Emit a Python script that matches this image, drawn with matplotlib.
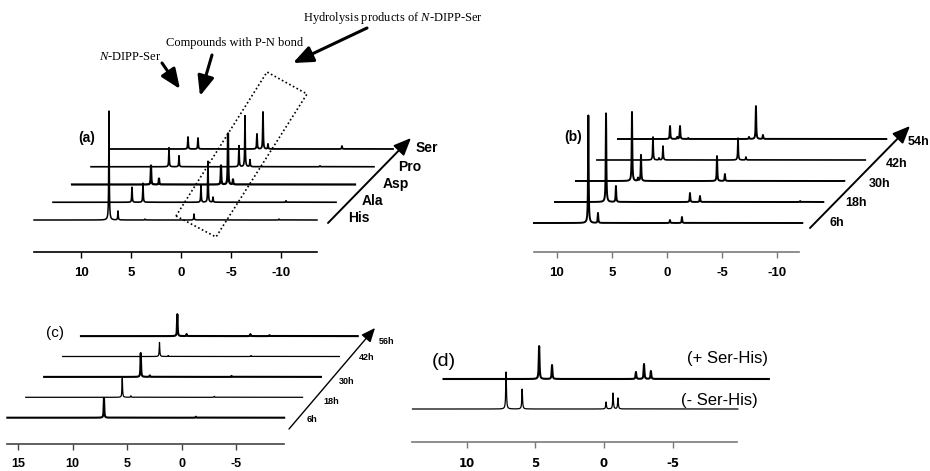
import numpy as np
import matplotlib
matplotlib.use("Agg")
import matplotlib.pyplot as plt

plt.rcParams['font.family'] = ['Liberation Sans', 'DejaVu Sans']
plt.rcParams['mathtext.fontset'] = 'custom'
plt.rcParams['mathtext.rm'] = 'Liberation Serif'
plt.rcParams['mathtext.it'] = 'Liberation Serif:italic'

# ---- data (chemical shifts in ppm, peak heights in arbitrary units) ----
a_labels = ['His', 'Ala', 'Asp', 'Pro', 'Ser']
a_shifts = [[7.2, 6.3, 3.6, -1.3, -9.8],
            [6.8, 5.7, -0.1, -0.8, -1.3, -8.6],
            [6.8, 6.0, -0.2, -0.9, -1.4],
            [6.9, 5.9, -0.1, -0.7, -1.2, -8.2],
            [6.9, 5.9, 0.0, -0.6, -1.1, -8.5]]
a_heights = [[109, 9, 1, 6, 1],
             [15, 19, 17, 41, 5, 1.5],
             [19, 6, 19, 51, 5],
             [19, 11, 21, 51, 7, 1],
             [12, 11, 15, 37, 5, 3]]

b_labels = ['6h', '18h', '30h', '42h', '54h']
b_shifts = [[7.15, 6.27, -0.27, -1.36],
            [7.45, 6.55, -0.18, -1.09, -10.2],
            [7.0, 6.45, 6.18, -0.73, -1.45, -12.4],
            [7.0, 6.45, 6.09, -0.73, -1.45],
            [7.36, 6.7, 6.45, 5.7, 0.18, -0.45, -1.09]]
b_heights = [[108, 10, 3, 6],
             [89, 16, 9, 6, 1],
             [69, 3, 26, 25, 7, 1],
             [23, 2, 14, 22, 3],
             [13, 2, 13, 1, 2, 33, 4]]

c_labels = ['6h', '18h', '30h', '42h', '56h']
c_shifts = [[7.13, -1.3],
            [7.14, 6.35, -1.3],
            [7.13, 6.3, -1.2],
            [7.1, 6.3, -1.3],
            [7.15, 6.3, 0.45, -1.3]]
c_heights = [[20, 1],
             [19, 1.5, 1],
             [24, 1.5, 1],
             [14, 1, 1],
             [22, 2, 2, 1]]

d_labels = ['(- Ser-His)', '(+ Ser-His)']
d_shifts = [[7.13, 5.96, -0.15, -0.66, -1.02],
            [6.98, 6.04, -0.07, -0.66, -1.16]]
d_heights = [[37, 20, 7, 16, 11],
             [33, 14, 7, 15, 8]]

W, H = 930, 471
fig = plt.figure(figsize=(9.3, 4.71), dpi=100)


def spectrum(x, shifts, heights, w=0.03):
    y = np.zeros_like(x)
    for s, h in zip(shifts, heights):
        y += h / (1 + ((x - s) / w) ** 2)
    return y


def panel(zero_px, px_ppm, base_py, axis_py, lim, ticks, color='k', font=None, fs=9.5, weight='bold'):
    # whole-figure axes, scaled so that 1 unit in y is one pixel
    ax = fig.add_axes([0, 0, 1, 1])
    ax.patch.set_alpha(0)
    ax.set_xlim(zero_px / px_ppm, (zero_px - W) / px_ppm)
    ax.set_ylim(base_py - H, base_py)
    for s in ['top', 'left', 'right']:
        ax.spines[s].set_visible(False)
    ax.spines['bottom'].set_position(('data', base_py - axis_py))
    ax.spines['bottom'].set_bounds(lim[0], lim[1])
    ax.spines['bottom'].set_color(color)
    ax.spines['bottom'].set_linewidth(1.2)
    ax.set_yticks([])
    ax.set_xticks(ticks)
    ax.set_xticklabels([str(t) for t in ticks], fontsize=fs, fontweight=weight,
                       family=font if font else plt.rcParams['font.family'])
    ax.tick_params(axis='x', direction='out', length=4.5, width=1, color=color, pad=6)
    return ax


def stack(ax, shifts, heights, lim, dx, dy, widths):
    x = np.arange(lim[1], lim[0], 0.004)
    for i in range(len(shifts)):
        y = spectrum(x, shifts[i], heights[i])
        ax.plot(x + i * dx, y + i * dy, color='k', lw=widths[i], clip_on=False)


# (a)
ax_a = panel(181, 10, 220, 252, (14.7, -13.6), [10, 5, 0, -5, -10])
stack(ax_a, a_shifts, a_heights, (14.7, -13.6), -1.9, 17.75, [1.1, 1.2, 1.6, 1.2, 1.3])

# (b)
ax_b = panel(667, 11, 223, 252, (12.1, -12.0), [10, 5, 0, -5, -10], color='#7a7a7a')
stack(ax_b, b_shifts, b_heights, (12.1, -12.3), -21 / 11, 21, [1.4, 1.4, 1.4, 1.2, 1.4])

# (c)
ax_c = panel(181.7, 10.9, 417.7, 443.5, (16.0, -9.4), [15, 10, 5, 0, -5], color='#444444', fs=9)
stack(ax_c, c_shifts, c_heights, (16.0, -9.4), -18.4 / 10.9, 20.4, [1.5, 0.9, 1.5, 0.9, 1.5])

# (d)
ax_d = panel(604, 13.73, 409, 442, (13.95, -9.7), [10, 5, 0, -5], color='#7a7a7a',
             font=['Liberation Sans Narrow', 'DejaVu Sans'], fs=8.5)
stack(ax_d, d_shifts, d_heights, (13.95, -9.75), -31 / 13.73, 30, [0.9, 1.5])

# ---- overlay in pixel coordinates for labels and arrows ----
ov = fig.add_axes([0, 0, 1, 1])
ov.set_xlim(0, W)
ov.set_ylim(H, 0)
ov.axis('off')

big_head = dict(arrowstyle='-|>,head_length=0.6,head_width=0.25', lw=2.2, color='k',
                shrinkA=0, shrinkB=0, mutation_scale=20)
ov.text(393, 18, r'Hydrolysis products of $\it{N}$-DIPP-Ser', family='Liberation Serif',
        fontsize=9, ha='center', va='center')
ov.text(235, 43, 'Compounds with P-N bond', family='Liberation Serif', fontsize=9,
        ha='center', va='center')
ov.text(130, 57, r'$\it{N}$-DIPP-Ser', family='Liberation Serif', fontsize=9,
        ha='center', va='center')
ov.annotate('', xy=(293, 63), xytext=(367, 28), arrowprops=big_head)
ov.annotate('', xy=(200, 96), xytext=(212, 55), arrowprops=big_head)
ov.annotate('', xy=(180, 89), xytext=(162, 63), arrowprops=big_head)

box = np.array([(176, 216), (216, 237), (307, 94), (267, 72), (176, 216)])
ov.plot(box[:, 0], box[:, 1], color='k', lw=1.2, ls=(0, (1, 1.5)))

thin_head = dict(arrowstyle='-|>,head_length=0.7,head_width=0.3', lw=1.4, color='k',
                 shrinkA=0, shrinkB=0, mutation_scale=15)

# stack labels (a)
ov.annotate('', xy=(411, 138), xytext=(328, 223), arrowprops=thin_head)
a_pos = [(359, 218), (372, 201), (396, 184), (410, 167), (427, 148)]
for lab, (px, py) in zip(a_labels, a_pos):
    ov.text(px, py, lab, fontsize=10, fontweight='bold', ha='center', va='center')
ov.text(87, 138, '(a)', fontsize=10, fontweight='bold', ha='center', va='center')

# stack labels (b)
ov.annotate('', xy=(910, 126), xytext=(810, 228), arrowprops=thin_head)
b_pos = [(837, 223), (856, 203), (880, 184), (897, 164), (919, 142)]
for lab, (px, py) in zip(b_labels, b_pos):
    ov.text(px, py, lab, fontsize=9, fontweight='bold', ha='center', va='center')
ov.text(573, 137, '(b)', fontsize=10, fontweight='bold', ha='center', va='center')

# stack labels (c)
ov.annotate('', xy=(375, 328), xytext=(289, 429),
            arrowprops=dict(arrowstyle='-|>,head_length=0.7,head_width=0.3', lw=1.0,
                            color='k', shrinkA=0, shrinkB=0, mutation_scale=12))
c_pos = [(312, 419), (331, 402), (347, 381), (367, 357), (387, 342)]
for lab, (px, py) in zip(c_labels, c_pos):
    ov.text(px, py, lab, fontsize=6.5, fontweight='bold', ha='center', va='center')
ov.text(55, 333, '(c)', fontsize=11, ha='center', va='center')

# labels (d)
ov.text(444, 361, '(d)', fontsize=14, ha='center', va='center')
ov.text(719, 401, d_labels[0], fontsize=12, ha='center', va='center')
ov.text(727, 358, d_labels[1], fontsize=12, ha='center', va='center')

fig.savefig('out.png', dpi=100)
